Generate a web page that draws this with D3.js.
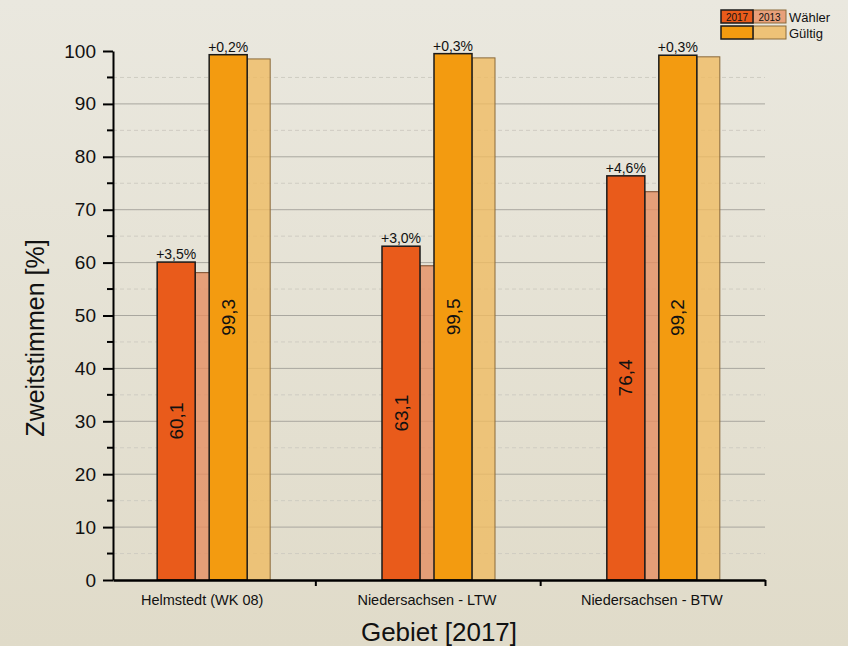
<!DOCTYPE html>
<html lang="de">
<head>
<meta charset="UTF-8"/>
<title>Zweitstimmen</title>
<script src="https://cdn.jsdelivr.net/npm/d3@7"></script>
<style>
body { margin: 0; }
text { font-family: "Liberation Sans", Arial, sans-serif; fill: #111; }
</style>
</head>
<body>
<svg id="chart"></svg>
<script>
// data
var gebiete = ["Helmstedt (WK 08)", "Niedersachsen - LTW", "Niedersachsen - BTW"];
var waehler2017 = [60.1, 63.1, 76.4];
var waehler2013 = [58.1, 59.4, 73.4];
var gueltig2017 = [99.3, 99.5, 99.2];
var gueltig2013 = [98.5, 98.7, 98.9];
var waehlerDiff = ["+3,5%", "+3,0%", "+4,6%"];
var gueltigDiff = ["+0,2%", "+0,3%", "+0,3%"];
var yTicks = [0, 10, 20, 30, 40, 50, 60, 70, 80, 90, 100];

var width = 848, height = 646;
var svg = d3.select("#chart").attr("width", width).attr("height", height);

// background gradient
var defs = svg.append("defs");
var grad = defs.append("linearGradient").attr("id", "bg")
  .attr("x1", 0).attr("y1", 0).attr("x2", 0).attr("y2", 1);
grad.append("stop").attr("offset", "0%").attr("stop-color", "#eae8df");
grad.append("stop").attr("offset", "100%").attr("stop-color", "#e0dbc9");
svg.append("rect").attr("width", width).attr("height", height).attr("fill", "url(#bg)");

var x = d3.scaleLinear().domain([0.55, 3.45]).range([113, 765]);
var y = d3.scaleLinear().domain([0, 100]).range([580, 51]);

// grid
var grid = svg.append("g");
grid.selectAll("line.minor")
  .data(d3.range(5, 100, 10))
  .enter().append("line")
  .attr("x1", x(0.55)).attr("x2", x(3.45))
  .attr("y1", d => y(d)).attr("y2", d => y(d))
  .attr("stroke", "#cfccc2").attr("stroke-dasharray", "4,3").attr("stroke-width", 1);
grid.selectAll("line.major")
  .data(yTicks.filter(d => d > 0 && d < 100))
  .enter().append("line")
  .attr("x1", x(0.55)).attr("x2", x(3.45))
  .attr("y1", d => y(d)).attr("y2", d => y(d))
  .attr("stroke", "#a9a79f").attr("stroke-width", 1);

// bar offsets relative to group center (in px)
var groups = svg.append("g");
function bars(vals, x0, w, fill, stroke, sw, op) {
  groups.append("g").selectAll("rect")
    .data(vals)
    .enter().append("rect")
    .attr("x", (d, i) => x(i + 1) + x0)
    .attr("width", w)
    .attr("y", d => y(d))
    .attr("height", d => y(0) - y(d))
    .attr("fill", fill).attr("fill-opacity", op)
    .attr("stroke", stroke).attr("stroke-width", sw);
}
bars(waehler2013, -19, 33, "#e58e62", "#7a4a2a", 1, 0.8);
bars(gueltig2013, 33, 23, "#efbb63", "#8a6a3a", 1, 0.8);
bars(waehler2017, -57, 38, "#e95b1b", "#1a1a1a", 1.5, 1);
bars(gueltig2017, -5, 38, "#f39b10", "#1a1a1a", 1.5, 1);

// value labels inside bars
function innerLabels(vals, x0) {
  groups.append("g").selectAll("text")
    .data(vals)
    .enter().append("text")
    .attr("transform", (d, i) => "translate(" + (x(i + 1) + x0) + "," + ((y(d) + y(0)) / 2) + ") rotate(-90)")
    .attr("text-anchor", "middle").attr("dy", "0.35em")
    .attr("font-size", 19)
    .text(d => d.toFixed(1).replace(".", ","));
}
innerLabels(waehler2017, -38);
innerLabels(gueltig2017, 14);

function topLabels(vals, labels, x0) {
  groups.append("g").selectAll("text")
    .data(vals)
    .enter().append("text")
    .attr("x", (d, i) => x(i + 1) + x0)
    .attr("y", d => y(d) - 3)
    .attr("text-anchor", "middle")
    .attr("font-size", 14)
    .text((d, i) => labels[i]);
}
topLabels(waehler2017, waehlerDiff, -38);
topLabels(gueltig2017, gueltigDiff, 14);

// y axis
var yAxis = svg.append("g").attr("transform", "translate(113,0)")
  .call(d3.axisLeft(y).tickValues(yTicks).tickSize(10).tickPadding(7).tickSizeOuter(0));
yAxis.select(".domain").attr("stroke", "#000").attr("stroke-width", 2);
yAxis.selectAll(".tick line").attr("stroke", "#000").attr("stroke-width", 2);
yAxis.selectAll(".tick text").attr("font-size", 19).attr("fill", "#111");
svg.append("g").selectAll("line")
  .data(d3.range(5, 100, 10))
  .enter().append("line")
  .attr("x1", 107).attr("x2", 113)
  .attr("y1", d => y(d)).attr("y2", d => y(d))
  .attr("stroke", "#000").attr("stroke-width", 2);

// x axis
var xAxis = svg.append("g").attr("transform", "translate(0," + y(0) + ")")
  .call(d3.axisBottom(x).tickValues([1.45, 2.45, 3.45]).tickSize(6).tickFormat("").tickSizeOuter(0));
xAxis.select(".domain").attr("stroke", "#000").attr("stroke-width", 2.5);
xAxis.selectAll(".tick line").attr("stroke", "#000").attr("stroke-width", 2);

svg.append("g").selectAll("text")
  .data(gebiete)
  .enter().append("text")
  .attr("x", (d, i) => x(i + 1) - 12)
  .attr("y", 605)
  .attr("text-anchor", "middle")
  .attr("font-size", 14.5)
  .text(d => d);

// axis titles
svg.append("text")
  .attr("x", 439).attr("y", 641)
  .attr("text-anchor", "middle").attr("font-size", 26)
  .text("Gebiet [2017]");
svg.append("text")
  .attr("transform", "translate(44,338) rotate(-90)")
  .attr("text-anchor", "middle").attr("font-size", 25)
  .text("Zweitstimmen [%]");

// legend
var legend = svg.append("g");
var legRows = [
  {name: "Wähler", c17: "#e95b1b", c13: "#e8a07a", t17: "2017", t13: "2013", yy: 10},
  {name: "Gültig", c17: "#f39b10", c13: "#eec277", t17: "", t13: "", yy: 26}
];
legRows.forEach(function(r) {
  legend.append("rect").attr("x", 753).attr("y", r.yy).attr("width", 33).attr("height", 13)
    .attr("fill", r.c13).attr("stroke", "#8a6a3a").attr("stroke-width", 1);
  legend.append("rect").attr("x", 721).attr("y", r.yy).attr("width", 32).attr("height", 13)
    .attr("fill", r.c17).attr("stroke", "#1a1a1a").attr("stroke-width", 1.5);
  legend.append("text").attr("x", 737).attr("y", r.yy + 10.5).attr("text-anchor", "middle")
    .attr("font-size", 10).text(r.t17);
  legend.append("text").attr("x", 769.5).attr("y", r.yy + 10.5).attr("text-anchor", "middle")
    .attr("font-size", 10).text(r.t13);
  legend.append("text").attr("x", 789).attr("y", r.yy + 11.5).attr("font-size", 13).text(r.name);
});
</script>
</body>
</html>
